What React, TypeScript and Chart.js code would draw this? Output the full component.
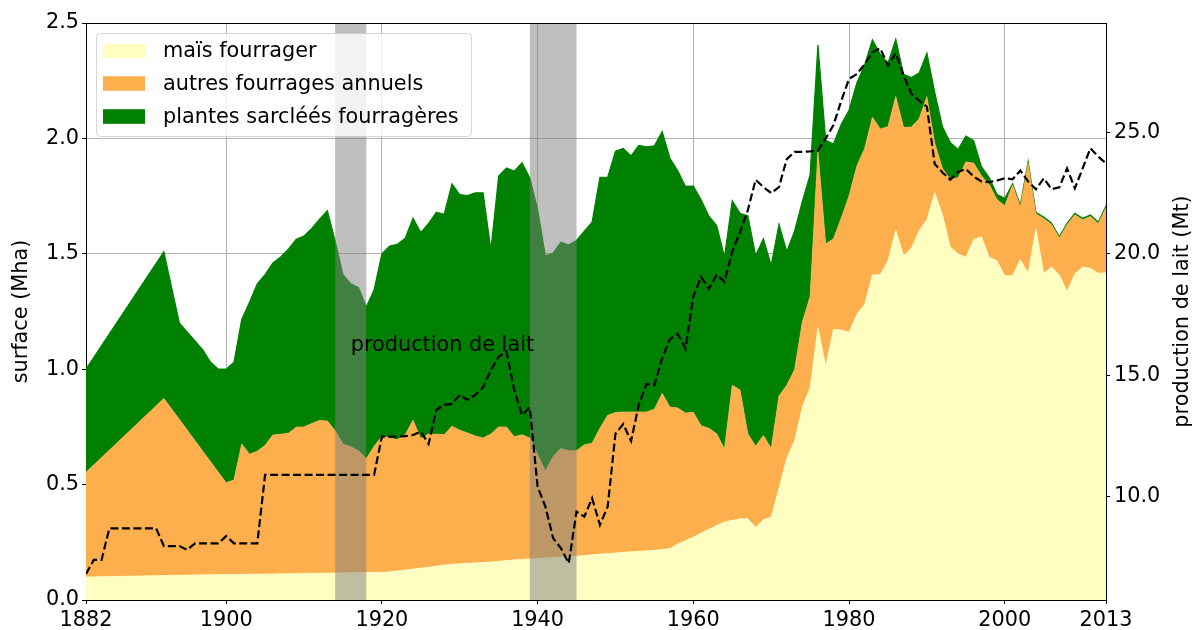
import React, { useEffect, useRef } from 'react';
import { Chart, registerables } from 'chart.js';

Chart.register(...registerables);

// ---------------- data ----------------
const areaYears: number[] = [1882, 1892, 1894, 1897, 1898, 1899].concat(
  Array.from({ length: 114 }, (_, i) => 1900 + i)
);

// maïs fourrager (Mha)
const maisFourrager = [
  0.100, 0.106, 0.107, 0.109, 0.109, 0.110,
  0.110, 0.111, 0.111, 0.112, 0.112, 0.113, 0.113, 0.114, 0.114, 0.115,
  0.115, 0.116, 0.116, 0.117, 0.117, 0.118, 0.118, 0.119, 0.119, 0.120,
  0.120, 0.122, 0.126, 0.130, 0.134, 0.138, 0.142, 0.147, 0.152, 0.155,
  0.157, 0.159, 0.161, 0.163, 0.165, 0.168, 0.171, 0.174, 0.176, 0.178,
  0.180, 0.182, 0.184, 0.186, 0.188, 0.190, 0.193, 0.196, 0.199, 0.201,
  0.204, 0.207, 0.209, 0.211, 0.213, 0.216, 0.219, 0.223, 0.243, 0.258,
  0.272, 0.290, 0.307, 0.323, 0.338, 0.345, 0.352, 0.352, 0.315, 0.348,
  0.360, 0.485, 0.613, 0.690, 0.836, 0.921, 1.182, 1.015, 1.173, 1.170,
  1.161, 1.238, 1.281, 1.409, 1.409, 1.471, 1.603, 1.493, 1.523, 1.600,
  1.649, 1.765, 1.670, 1.530, 1.500, 1.485, 1.562, 1.575, 1.485, 1.470,
  1.405, 1.405, 1.475, 1.416, 1.610, 1.416, 1.443, 1.408, 1.338, 1.414,
  1.443, 1.437, 1.416, 1.418,
];

// autres fourrages annuels (Mha)
const autresFourrages = [
  0.453, 0.767, 0.675, 0.536, 0.490, 0.444,
  0.398, 0.409, 0.565, 0.520, 0.533, 0.557, 0.602, 0.604, 0.609, 0.634,
  0.635, 0.649, 0.662, 0.659, 0.616, 0.558, 0.546, 0.528, 0.493, 0.546,
  0.590, 0.580, 0.569, 0.586, 0.645, 0.561, 0.577, 0.572, 0.564, 0.598,
  0.579, 0.565, 0.550, 0.539, 0.554, 0.582, 0.579, 0.533, 0.540, 0.524,
  0.450, 0.376, 0.438, 0.470, 0.459, 0.457, 0.480, 0.483, 0.545, 0.599,
  0.608, 0.608, 0.606, 0.604, 0.602, 0.611, 0.676, 0.613, 0.589, 0.552,
  0.541, 0.465, 0.437, 0.397, 0.316, 0.586, 0.558, 0.368, 0.351, 0.365,
  0.296, 0.399, 0.317, 0.308, 0.368, 0.394, 0.763, 0.528, 0.392, 0.485,
  0.591, 0.642, 0.675, 0.683, 0.632, 0.580, 0.579, 0.555, 0.526, 0.485,
  0.532, 0.215, 0.200, 0.292, 0.330, 0.413, 0.331, 0.263, 0.315, 0.265,
  0.303, 0.393, 0.230, 0.477, 0.063, 0.237, 0.184, 0.160, 0.288, 0.255,
  0.205, 0.225, 0.215, 0.284,
];

// plantes sarclées fourragères (Mha)
const plantesSarclees = [
  0.447, 0.636, 0.417, 0.439, 0.431, 0.446,
  0.492, 0.510, 0.540, 0.658, 0.725, 0.740, 0.745, 0.768, 0.797, 0.814,
  0.827, 0.845, 0.872, 0.911, 0.822, 0.734, 0.706, 0.706, 0.658, 0.678,
  0.790, 0.832, 0.846, 0.851, 0.875, 0.893, 0.913, 0.961, 0.955, 1.050,
  1.021, 1.028, 1.053, 1.062, 0.798, 1.087, 1.122, 1.151, 1.178, 1.127,
  1.062, 0.932, 0.881, 0.894, 0.891, 0.911, 0.925, 0.958, 1.087, 1.032,
  1.133, 1.142, 1.109, 1.155, 1.148, 1.141, 1.135, 1.078, 1.028, 0.982,
  0.980, 0.979, 0.919, 0.902, 0.833, 0.799, 0.765, 0.945, 0.827, 0.852,
  0.794, 0.744, 0.580, 0.600, 0.523, 0.528, 0.461, 0.449, 0.411, 0.406,
  0.370, 0.360, 0.362, 0.335, 0.324, 0.275, 0.247, 0.230, 0.215, 0.198,
  0.188, 0.220, 0.180, 0.160, 0.122, 0.112, 0.097, 0.040, 0.030, 0.022,
  0.032, 0.006, 0.006, 0.006, 0.006, 0.006, 0.006, 0.006, 0.006, 0.006,
  0.006, 0.006, 0.006, 0.006,
];

const milkYears: number[] = Array.from({ length: 132 }, (_, i) => 1882 + i);

// production de lait (Mt)
const productionLait = [
  6.83, 7.41, 7.41, 8.71, 8.71, 8.71, 8.71, 8.71, 8.71, 8.71,
  7.98, 7.98, 7.98, 7.82, 8.09, 8.09, 8.09, 8.09, 8.39, 8.09,
  8.09, 8.09, 8.09, 10.91, 10.91, 10.91, 10.91, 10.91, 10.91, 10.91,
  10.91, 10.91, 10.91, 10.91, 10.91, 10.91, 10.91, 10.91, 12.48, 12.48,
  12.48, 12.5, 12.55, 12.69, 12.18, 13.58, 13.79, 13.83, 14.2, 13.99,
  14.2, 14.51, 15.23, 15.77, 15.98, 14.4, 13.37, 13.69, 10.42, 9.6,
  8.3, 7.89, 7.27, 9.4, 9.19, 9.95, 8.85, 9.6, 12.6, 13.0,
  12.3, 13.8, 14.65, 14.6, 15.7, 16.5, 16.7, 16.1, 18.25, 19.05,
  18.55, 19.15, 18.85, 20.1, 20.9, 21.8, 23.05, 22.75, 22.5, 22.75,
  23.9, 24.2, 24.2, 24.22, 24.25, 24.75, 25.3, 26.3, 27.2, 27.4,
  27.8, 28.3, 28.46, 27.75, 28.26, 27.35, 26.6, 26.3, 26.05, 23.7,
  23.35, 23.05, 23.37, 23.5, 23.18, 22.98, 22.95, 23.02, 23.11, 23.07,
  23.43, 22.98, 22.66, 23.11, 22.66, 22.74, 23.52, 22.7, 23.52, 24.35,
  24.0, 23.73,
];

const xTickValues = [1882, 1900, 1920, 1940, 1960, 1980, 2000, 2013];
const leftTickValues = [0, 0.5, 1.0, 1.5, 2.0, 2.5];
const rightTickValues = [10, 15, 20, 25];
const warPeriods: [number, number][] = [[1914, 1918], [1939, 1945]];

const seriesLabels = ['maïs fourrager', 'autres fourrages annuels', 'plantes sarcléés fourragères'];
const seriesColors = ['#fffdc0', '#fdaf4d', '#008000'];

const FONT = 'DejaVu Sans';
const FS = 20.8;

export default function App() {
  const canvasRef = useRef<HTMLCanvasElement | null>(null);

  useEffect(() => {
    const canvas = canvasRef.current;
    if (!canvas) return;
    Chart.defaults.font.family = FONT;

    const decorPlugin = {
      id: 'decor',
      // the bands are painted once the last area (maïs, index 0) is drawn, before the milk line
      afterDatasetDraw(chart: any, args: any) {
        if (args.index !== 0) return;
        const { ctx, chartArea } = chart;
        const xs = chart.scales.x;
        ctx.save();
        ctx.fillStyle = 'rgba(128,128,128,0.5)';
        warPeriods.forEach(([a, b]) => {
          const x0 = xs.getPixelForValue(a);
          const x1 = xs.getPixelForValue(b);
          ctx.fillRect(x0, chartArea.top, x1 - x0, chartArea.bottom - chartArea.top);
        });
        ctx.restore();
      },
      afterDatasetsDraw(chart: any) {
        const { ctx } = chart;
        const xs = chart.scales.x;
        const y1 = chart.scales.y1;
        ctx.save();
        ctx.font = `${FS}px "${FONT}"`;
        ctx.fillStyle = '#000';
        ctx.textAlign = 'left';
        ctx.textBaseline = 'alphabetic';
        ctx.fillText('production de lait', xs.getPixelForValue(1916), y1.getPixelForValue(16));
        ctx.restore();
      },
      afterDraw(chart: any) {
        const { ctx, chartArea } = chart;
        ctx.save();
        // top spine
        ctx.strokeStyle = '#000';
        ctx.lineWidth = 1;
        ctx.beginPath();
        ctx.moveTo(chartArea.left, Math.round(chartArea.top) + 0.5);
        ctx.lineTo(chartArea.right, Math.round(chartArea.top) + 0.5);
        ctx.stroke();

        // axis titles
        ctx.font = `${FS}px "${FONT}"`;
        ctx.fillStyle = '#000';
        ctx.textAlign = 'center';
        ctx.textBaseline = 'middle';
        const cy = (chartArea.top + chartArea.bottom) / 2;
        ctx.save();
        ctx.translate(22, cy);
        ctx.rotate(-Math.PI / 2);
        ctx.fillText('surface (Mha)', 0, 0);
        ctx.restore();
        ctx.save();
        ctx.translate(1183, cy);
        ctx.rotate(-Math.PI / 2);
        ctx.fillText('production de lait (Mt)', 0, 0);
        ctx.restore();

        // legend
        const lx = 96.5, ly = 33.5, lw = 375, lh = 103;
        ctx.beginPath();
        if ((ctx as any).roundRect) (ctx as any).roundRect(lx, ly, lw, lh, 4);
        else ctx.rect(lx, ly, lw, lh);
        ctx.fillStyle = 'rgba(255,255,255,0.8)';
        ctx.fill();
        ctx.strokeStyle = 'rgba(204,204,204,0.8)';
        ctx.lineWidth = 1;
        ctx.stroke();
        const rows = [51, 83.5, 116.5];
        ctx.textAlign = 'left';
        ctx.textBaseline = 'middle';
        rows.forEach((ry, i) => {
          ctx.fillStyle = seriesColors[i];
          ctx.fillRect(103, ry - 7.3, 42, 14.6);
          ctx.fillStyle = '#000';
          ctx.fillText(seriesLabels[i], 163, ry + 1);
        });
        ctx.restore();
      },
    };

    const areaDataset = (i: number, values: number[], fill: any) => ({
      label: seriesLabels[i],
      data: areaYears.map((x, k) => ({ x, y: values[k] })),
      backgroundColor: seriesColors[i],
      borderColor: seriesColors[i],
      borderWidth: i === 2 ? 1.2 : 0.6,
      fill,
      pointRadius: 0,
      tension: 0,
      yAxisID: 'y',
      order: 1,
    });

    const tickFont = { family: FONT, size: FS };

    const chart = new Chart(canvas, {
      type: 'line',
      data: {
        datasets: [
          areaDataset(0, maisFourrager, 'origin'),
          areaDataset(1, autresFourrages, '-1'),
          areaDataset(2, plantesSarclees, '-1'),
          {
            label: 'production de lait',
            data: milkYears.map((x, k) => ({ x, y: productionLait[k] })),
            borderColor: '#000',
            backgroundColor: '#000',
            borderWidth: 2.2,
            borderDash: [8, 3.5],
            fill: false,
            pointRadius: 0,
            tension: 0,
            yAxisID: 'y1',
            order: 0,
          } as any,
        ],
      },
      options: {
        animation: false,
        responsive: false,
        devicePixelRatio: 1,
        layout: { padding: { top: 23, left: 0, right: 0, bottom: 0 } },
        plugins: { legend: { display: false }, tooltip: { enabled: false } },
        scales: {
          x: {
            type: 'linear',
            min: 1882,
            max: 2013,
            z: 1,
            afterBuildTicks: (s: any) => { s.ticks = xTickValues.map((v) => ({ value: v })); },
            afterFit: (s: any) => { s.height = 30; },
            ticks: {
              callback: (v: any) => String(v),
              font: tickFont,
              color: '#000',
              padding: 4,
              maxRotation: 0,
              autoSkip: false,
            },
            grid: { color: '#b0b0b0', lineWidth: 1, tickColor: '#000', tickLength: 4, tickWidth: 1 },
            border: { color: '#000', width: 1 },
          },
          y: {
            type: 'linear',
            position: 'left',
            stacked: true,
            min: 0,
            max: 2.5,
            z: 1,
            afterBuildTicks: (s: any) => { s.ticks = leftTickValues.map((v) => ({ value: v })); },
            afterFit: (s: any) => { s.width = 86; },
            ticks: { callback: (v: any) => Number(v).toFixed(1), font: tickFont, color: '#000', padding: 3 },
            grid: { color: '#b0b0b0', lineWidth: 1, tickColor: '#000', tickLength: 4, tickWidth: 1 },
            border: { color: '#000', width: 1 },
          },
          y1: {
            type: 'linear',
            position: 'right',
            min: 5.76,
            max: 29.5,
            z: 1,
            afterBuildTicks: (s: any) => { s.ticks = rightTickValues.map((v) => ({ value: v })); },
            afterFit: (s: any) => { s.width = 88; },
            ticks: { callback: (v: any) => Number(v).toFixed(1), font: tickFont, color: '#000', padding: 4 },
            grid: { drawOnChartArea: false, tickColor: '#000', tickLength: 4, tickWidth: 1 },
            border: { color: '#000', width: 1 },
          },
        },
      } as any,
      plugins: [decorPlugin],
    });

    return () => chart.destroy();
  }, []);

  return (
    <div style={{ position: 'absolute', left: 0, top: 0, width: 1194, height: 630, background: '#fff' }}>
      <canvas ref={canvasRef} width={1194} height={630} style={{ display: 'block' }} />
    </div>
  );
}
